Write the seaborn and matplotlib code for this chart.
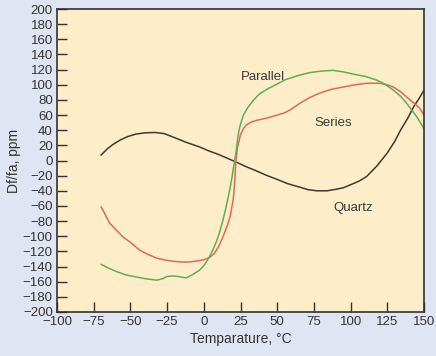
import matplotlib
matplotlib.use("Agg")
import matplotlib.pyplot as plt
import seaborn as sns
import pandas as pd

# ---- data ----
quartz_T = [-70, -66, -62, -57, -52, -46, -40, -33, -27, -21, -12, -3, 3, 10, 16, 22, 28, 35, 42, 50, 57, 65, 71, 77,
            84, 90, 95, 100, 106, 111, 118, 125, 130, 134, 139, 143, 147, 150]
quartz_v = [7, 15, 21, 27, 31.5, 35, 36.5, 37, 35.5, 31, 24, 18, 13, 8, 3, -2, -7.5, -13, -19, -25, -30.5, -35, -38.5, -40,
            -40, -38, -36, -32, -27, -21, -7, 10, 25, 40, 56, 71, 83, 93]

parallel_T = [-70, -65, -59, -53, -48, -40, -32, -28, -25, -21, -18, -12, -8, -3, 0, 3, 6, 9, 11, 13, 15, 17, 19, 20,
              21, 22, 23, 24, 25, 27, 30, 34, 38, 43, 49, 56, 64, 72, 80, 88, 95, 102, 110, 118, 124, 129, 134, 138,
              145, 150]
parallel_v = [-137, -142, -147, -151, -153, -156, -158, -156, -153, -152.5, -153, -155, -151, -145, -139, -130, -119,
              -105, -93, -79, -63, -45, -25, -12, -1, 12, 28, 40, 48, 60, 70, 80, 88, 94, 100, 107, 112, 116, 118,
              119, 117, 114, 111, 106, 100, 93, 85, 76, 58, 42]

series_T = [-70, -67, -64, -60, -55, -50, -44, -38, -32, -26, -21, -15, -10, -4, 0, 4, 7, 10, 13, 16, 18, 20, 21,
            21.7, 23, 25, 27, 29, 32, 36, 43, 50, 55, 59, 65, 72, 79, 87, 95, 103, 111, 120, 125, 129, 134, 138,
            143, 147, 150]
series_v = [-61, -72, -83, -91, -101, -108, -118, -124, -129, -131.5, -133, -134, -134, -132.5, -131, -128, -123,
            -114, -101, -86, -74, -52, -30, -4, 18, 34, 42, 47, 50.5, 53, 56, 60, 63, 67, 75, 83, 89, 94, 97, 100,
            102, 102, 100, 97, 91, 84, 76, 69, 60]

x_ticks = [-100, -75, -50, -25, 0, 25, 50, 75, 100, 125, 150]
y_ticks = list(range(-200, 201, 20))

labels = ["Parallel", "Series", "Quartz"]
label_T = [40, 88, 102]
label_v = [110, 50, -63]

colors = {"Quartz": "#403a2c", "Parallel": "#5fae57", "Series": "#e2685a"}

sns.set_style("ticks")
plt.rcParams["font.family"] = ["Liberation Sans", "DejaVu Sans"]

df = pd.concat([
    pd.DataFrame({"T": quartz_T, "v": quartz_v, "curve": "Quartz"}),
    pd.DataFrame({"T": parallel_T, "v": parallel_v, "curve": "Parallel"}),
    pd.DataFrame({"T": series_T, "v": series_v, "curve": "Series"}),
])

fig = plt.figure(figsize=(4.36, 3.56), dpi=100, facecolor="#dfe5f3")
ax = fig.add_axes([57 / 436, 1 - 312 / 356, (424 - 57) / 436, (312 - 9) / 356])
ax.set_facecolor("#fdedc9")

for name in ["Quartz", "Series", "Parallel"]:
    sub = df[df["curve"] == name]
    sns.lineplot(data=sub, x="T", y="v", ax=ax, color=colors[name], lw=1.1,
                 sort=False, estimator=None, legend=False)

for lab, tx, ty in zip(labels, label_T, label_v):
    ax.text(tx, ty, lab, ha="center", va="center", fontsize=9.5, color="#3a3a3a")

ax.set_xlim(-100, 150)
ax.set_ylim(-200, 200)
ax.set_xticks(x_ticks)
ax.set_yticks(y_ticks)
ax.set_xticklabels([f"\u2212{abs(t)}" if t < 0 else str(t) for t in x_ticks])
ax.set_yticklabels([f"\u2212{abs(t)}" if t < 0 else str(t) for t in y_ticks])
ax.tick_params(direction="in", length=7, width=1, color="#333333",
               labelsize=9.5, labelcolor="#333333", pad=3)
for s in ax.spines.values():
    s.set_visible(True)
    s.set_color("#333333")
    s.set_linewidth(1.2)

ax.set_xlabel("Temparature, \u00b0C", fontsize=10, color="#333333", labelpad=3)
ax.set_ylabel("Df/fa, ppm", fontsize=10, color="#333333", labelpad=1)

fig.savefig("out.png", dpi=100, facecolor=fig.get_facecolor())
